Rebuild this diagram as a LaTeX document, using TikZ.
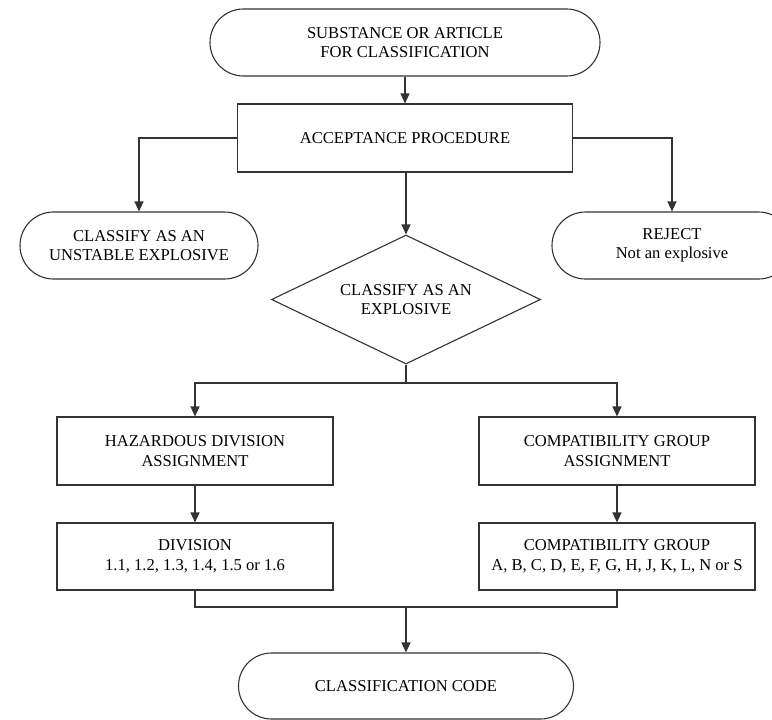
\documentclass[tikz,border=0pt]{standalone}
\usepackage{fontspec}
\setmainfont{Liberation Serif}
\usetikzlibrary{arrows.meta,shapes.misc,shapes.geometric}
\definecolor{linec}{HTML}{333333}
\tikzset{
  base/.style={draw=linec, line width=1.1pt, align=center, inner sep=0pt,
    font=\fontsize{16.6}{19.5}\selectfont, text=black},
  term/.style={base, rounded rectangle, rounded rectangle arc length=180},
  boxnode/.style={base, rectangle},
  decide/.style={base, diamond, aspect=2.08},
  conn/.style={draw=linec, line width=1.1pt},
  arr/.style={conn, -{Triangle[length=10pt,width=9pt]}}
}
\begin{document}
\begin{tikzpicture}[x=1pt,y=1pt]
\useasboundingbox (0,0) rectangle (772,-720);
\node[term, minimum width=390pt, minimum height=67pt] (top) at (405,-42.5)
  {SUBSTANCE OR ARTICLE\\FOR CLASSIFICATION};
\node[boxnode, minimum width=335pt, minimum height=68pt] (acc) at (405,-138)
  {ACCEPTANCE PROCEDURE};
\node[term, minimum width=238pt, minimum height=67pt] (uns) at (139,-245.5)
  {CLASSIFY AS AN\\UNSTABLE EXPLOSIVE};
\node[term, minimum width=240pt, minimum height=67pt] (rej) at (672,-245.5)
  {REJECT\\Not an explosive};
\node[decide, minimum width=269pt, minimum height=129pt] (dia) at (406,-299.5)
  {CLASSIFY AS AN\\EXPLOSIVE};
\node[boxnode, minimum width=276pt, minimum height=68pt] (haz) at (195,-451)
  {HAZARDOUS DIVISION\\ASSIGNMENT};
\node[boxnode, minimum width=276pt, minimum height=68pt] (cga) at (617,-451)
  {COMPATIBILITY GROUP\\ASSIGNMENT};
\node[boxnode, minimum width=276pt, minimum height=67pt] (div) at (195,-556.5)
  {DIVISION\\1.1, 1.2, 1.3, 1.4, 1.5 or 1.6};
\node[boxnode, minimum width=276pt, minimum height=67pt] (cg) at (617,-556.5)
  {COMPATIBILITY GROUP\\A, B, C, D, E, F, G, H, J, K, L, N or S};
\node[term, minimum width=335pt, minimum height=66pt] (code) at (406,-686)
  {CLASSIFICATION CODE};
\coordinate (br) at (406,-383);
\coordinate (mg) at (406,-607);
\draw[arr] (top.south) -- (acc.north);
\draw[arr] (acc.west) -| (uns.north);
\draw[arr] (acc.east) -| (rej.north);
\draw[arr] (acc.south -| dia.north) -- (dia.north);
\draw[conn] (dia.south) -- (br);
\draw[arr] (br) -| (haz.north);
\draw[arr] (br) -| (cga.north);
\draw[arr] (haz) -- (div);
\draw[arr] (cga) -- (cg);
\draw[conn] (div.south) |- (mg) -| (cg.south);
\draw[arr] (mg) -- (code.north);
\end{tikzpicture}
\end{document}
